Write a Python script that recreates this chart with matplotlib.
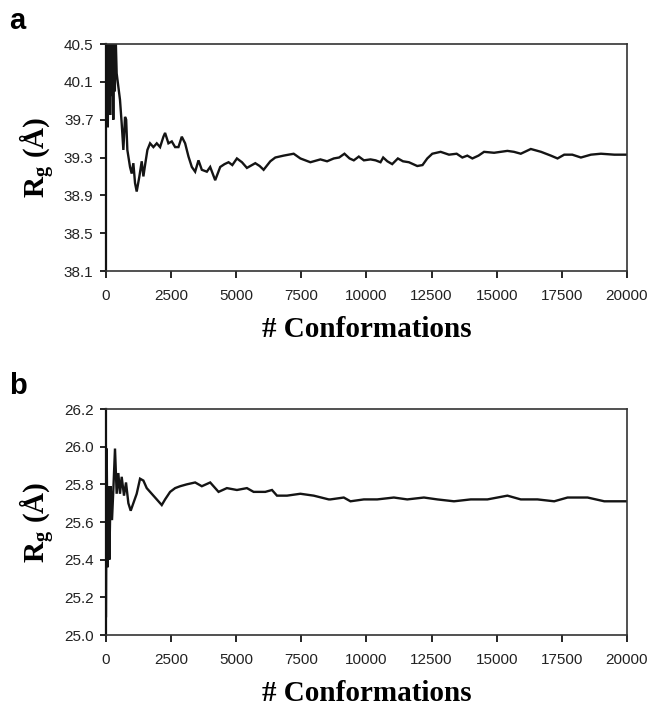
import numpy as np
import matplotlib.pyplot as plt

plt.rcParams['mathtext.fontset'] = 'custom'
plt.rcParams['mathtext.rm'] = 'Liberation Serif:bold'
plt.rcParams['mathtext.bf'] = 'Liberation Serif:bold'
plt.rcParams['mathtext.it'] = 'Liberation Serif:bold'

# running average of Rg, system a
conf_a = [0, 15, 30, 50, 70, 90, 110, 130, 160, 190, 220, 250, 280, 310, 340,
          370, 410, 538, 603, 667, 731, 775, 820, 923, 987, 1051, 1115, 1179,
          1282, 1372, 1436, 1500, 1590, 1692, 1820, 1949, 2077, 2205, 2269,
          2397, 2526, 2654, 2782, 2910, 3038, 3167, 3295, 3423, 3551, 3679,
          3872, 4000, 4192, 4385, 4550, 4705, 4850, 5026, 5220, 5410, 5731,
          5900, 6051, 6308, 6500, 6820, 7205, 7462, 7846, 8231, 8487, 8744,
          8950, 9154, 9350, 9513, 9705, 9900, 10154, 10350, 10538, 10641,
          10800, 10987, 11205, 11400, 11628, 11949, 12150, 12333, 12526,
          12846, 13167, 13462, 13679, 13870, 14064, 14300, 14513, 14897,
          15410, 15660, 15923, 16308, 16700, 17077, 17333, 17590, 17900,
          18231, 18615, 19000, 19513, 20000]
rg_a = [39.90, 40.60, 39.85, 40.60, 39.62, 40.45, 39.80, 40.60, 39.75, 40.60,
        39.95, 40.55, 39.70, 40.60, 40.00, 40.60, 40.19, 39.91, 39.66, 39.38,
        39.73, 39.70, 39.38, 39.20, 39.13, 39.24, 39.03, 38.94, 39.10, 39.26,
        39.10, 39.22, 39.38, 39.45, 39.41, 39.45, 39.41, 39.52, 39.56, 39.45,
        39.47, 39.41, 39.41, 39.52, 39.45, 39.31, 39.20, 39.15, 39.27, 39.17,
        39.15, 39.20, 39.06, 39.20, 39.23, 39.25, 39.22, 39.29, 39.25, 39.19,
        39.24, 39.21, 39.17, 39.26, 39.30, 39.32, 39.34, 39.29, 39.25, 39.28,
        39.26, 39.29, 39.30, 39.34, 39.29, 39.27, 39.31, 39.27, 39.28, 39.27,
        39.25, 39.30, 39.26, 39.23, 39.29, 39.26, 39.25, 39.21, 39.22, 39.29,
        39.34, 39.36, 39.33, 39.34, 39.30, 39.32, 39.29, 39.32, 39.36, 39.35,
        39.37, 39.36, 39.34, 39.39, 39.36, 39.32, 39.29, 39.33, 39.33, 39.30,
        39.33, 39.34, 39.33, 39.33]

# running average of Rg, system b
conf_b = [0, 26, 64, 103, 128, 180, 231, 282, 346, 410, 474, 538, 603, 692,
          769, 859, 949, 1051, 1179, 1308, 1436, 1564, 1756, 1949, 2141, 2269,
          2462, 2654, 2846, 3103, 3423, 3679, 4000, 4321, 4641, 5026, 5410,
          5667, 6115, 6372, 6564, 6949, 7462, 7974, 8551, 8615, 9128, 9385,
          9897, 10410, 11051, 11564, 12205, 12718, 13359, 14000, 14641,
          15026, 15410, 15923, 16564, 17205, 17718, 18487, 19128, 20000]
rg_b = [25.10, 25.99, 25.36, 25.79, 25.40, 25.79, 25.61, 25.77, 25.99, 25.75,
        25.86, 25.75, 25.84, 25.74, 25.81, 25.70, 25.66, 25.70, 25.75, 25.83,
        25.82, 25.78, 25.75, 25.72, 25.69, 25.72, 25.76, 25.78, 25.79, 25.80,
        25.81, 25.79, 25.81, 25.76, 25.78, 25.77, 25.78, 25.76, 25.76, 25.77,
        25.74, 25.74, 25.75, 25.74, 25.72, 25.72, 25.73, 25.71, 25.72, 25.72,
        25.73, 25.72, 25.73, 25.72, 25.71, 25.72, 25.72, 25.73, 25.74, 25.72,
        25.72, 25.71, 25.73, 25.73, 25.71, 25.71]

x_ticks = np.arange(0, 20001, 2500)
y_ticks_a = [38.1, 38.5, 38.9, 39.3, 39.7, 40.1, 40.5]
y_ticks_b = [25.0, 25.2, 25.4, 25.6, 25.8, 26.0, 26.2]

fig = plt.figure(figsize=(6.49, 7.03), dpi=100)
ax_a = fig.add_axes([0.1633, 0.6145, 0.8028, 0.3229])
ax_b = fig.add_axes([0.1633, 0.0967, 0.8028, 0.3215])

panels = [(ax_a, conf_a, rg_a, y_ticks_a, 'a'),
          (ax_b, conf_b, rg_b, y_ticks_b, 'b')]

for ax, x, y, yt, letter in panels:
    ax.plot(x, y, color='#141414', lw=1.7, solid_joinstyle='miter')
    ax.set_xlim(0, 20000)
    ax.set_ylim(yt[0], yt[-1])
    ax.set_xticks(x_ticks)
    ax.set_xticklabels([str(t) for t in x_ticks])
    ax.set_yticks(yt)
    ax.set_yticklabels(['{:.1f}'.format(t) for t in yt])
    for lab in ax.get_xticklabels() + ax.get_yticklabels():
        lab.set_fontfamily('Liberation Sans')
        lab.set_fontsize(11)
        lab.set_color('#222222')
    ax.tick_params(axis='x', direction='out', length=5, width=1.2, pad=8)
    ax.tick_params(axis='y', direction='out', length=4, width=1.2, pad=5)
    for s in ax.spines.values():
        s.set_linewidth(1.2)
        s.set_color('#333333')
    ax.spines['left'].set_linewidth(1.6)
    ax.spines['left'].set_color('#111111')
    ax.set_xlabel('# Conformations', fontfamily='Liberation Serif',
                  fontweight='bold', fontsize=21, labelpad=9)
    ax.set_ylabel(r'$\mathrm{R_g\ (\AA)}$', fontsize=21, labelpad=5)
    ax.text(-0.185, 1.10, letter, transform=ax.transAxes,
            fontfamily='Liberation Sans', fontweight='bold', fontsize=21,
            va='center', ha='left')

fig.savefig('out.png', dpi=100)
